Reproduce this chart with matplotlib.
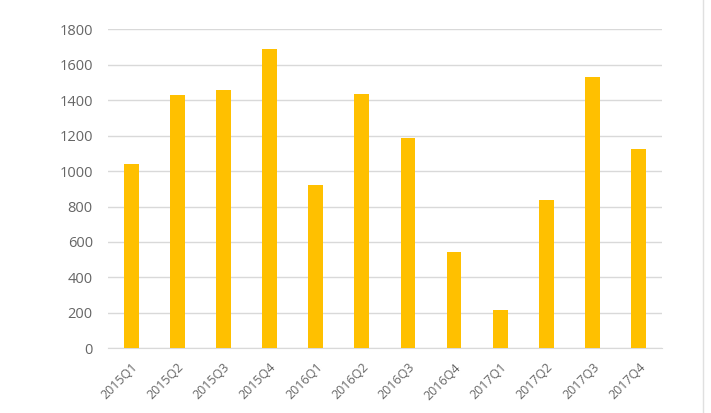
import numpy as np
import matplotlib.pyplot as plt
from matplotlib.lines import Line2D

plt.rcParams['font.family'] = ['Open Sans', 'DejaVu Sans']

quarters = ["2015Q1", "2015Q2", "2015Q3", "2015Q4",
            "2016Q1", "2016Q2", "2016Q3", "2016Q4",
            "2017Q1", "2017Q2", "2017Q3", "2017Q4"]
values = [1040, 1430, 1460, 1690, 920, 1435, 1185, 542, 214, 835, 1530, 1123]
yticks = [0, 200, 400, 600, 800, 1000, 1200, 1400, 1600, 1800]

fig = plt.figure(figsize=(7.11, 4.13), dpi=100)
ax = fig.add_axes([0.152, 0.1567, 0.7787, 0.7723])

x = np.arange(len(quarters))
ax.bar(x, values, width=0.32, color="#FFC000", zorder=3)

ax.set_xlim(-0.5, len(quarters) - 0.5)
ax.set_ylim(0, 1800)
ax.set_yticks(yticks)
ax.set_yticklabels([str(v) for v in yticks], fontsize=10.5, color="#666666")
ax.set_xticks(x)
ax.set_xticklabels(quarters, rotation=45, ha="right", rotation_mode="anchor",
                   fontsize=9, color="#666666")
ax.tick_params(axis="both", length=0)
ax.tick_params(axis="y", pad=11)
ax.tick_params(axis="x", pad=9)

ax.grid(axis="y", color="#D9D9D9", linewidth=1, zorder=0)
for s in ["top", "right", "left"]:
    ax.spines[s].set_visible(False)
ax.spines["bottom"].set_color("#D9D9D9")

# faint frame edge on the right of the picture
fig.add_artist(Line2D([0.989, 0.989], [0, 1], transform=fig.transFigure,
                      color="#E0E0E0", linewidth=1))

fig.savefig("out.png", dpi=100)
